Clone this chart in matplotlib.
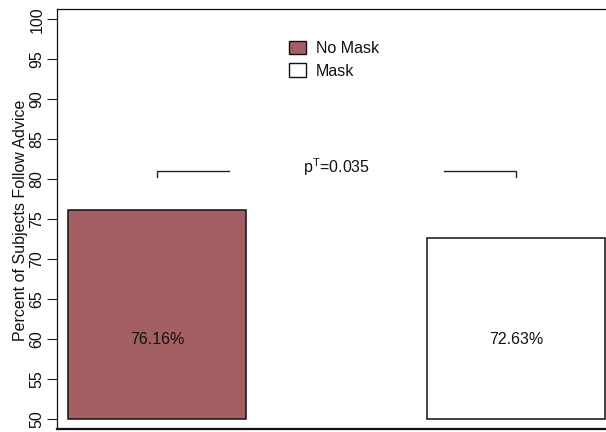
import matplotlib
matplotlib.use("Agg")
import matplotlib.pyplot as plt
from matplotlib.patches import Patch

# ---- data ----
groups = ["No Mask", "Mask"]
values = [76.16, 72.63]
value_labels = ["76.16%", "72.63%"]
bar_colors = ["#A45F63", "#FFFFFF"]
y_ticks = [50, 55, 60, 65, 70, 75, 80, 85, 90, 95, 100]
p_text = "0.035"
ylabel = "Percent of Subjects Follow Advice"

plt.rcParams["font.family"] = ["Liberation Sans", "DejaVu Sans"]
plt.rcParams["mathtext.fontset"] = "custom"
plt.rcParams["mathtext.rm"] = "Liberation Sans"
plt.rcParams["mathtext.it"] = "Liberation Sans:italic"

W, H = 606, 432
fig = plt.figure(figsize=(W / 100, H / 100), dpi=100)

left_px, right_px, top_px, bot_px = 57.3, 609.0, 9.3, 428.7
ax = fig.add_axes([left_px / W, 1 - bot_px / H,
                   (right_px - left_px) / W, (bot_px - top_px) / H])

ppu = 179.5
c0 = 157.0
ax.set_xlim((left_px - c0) / ppu, (right_px - c0) / ppu)
ax.set_ylim(48.825, 101.25)

base = 50
xs = [0, 2]
ax.bar(xs, [v - base for v in values], bottom=base, width=0.993,
       color=bar_colors, edgecolor="#111111", linewidth=1.1, zorder=2)

for x, lab in zip(xs, value_labels):
    ax.text(x, 60, lab, ha="center", va="center", fontsize=11.5, color="#111111")

# significance bracket
bh, bt = 81.0, 80.3
ax.plot([xs[0], xs[0], 0.4], [bt, bh, bh], color="#222222", lw=1.0,
        solid_joinstyle="miter")
ax.plot([1.6, xs[1], xs[1]], [bh, bh, bt], color="#222222", lw=1.0,
        solid_joinstyle="miter")
ax.text(1.0, 80.75, r"p$^{\mathrm{T}}$=" + p_text, ha="center", va="baseline",
        fontsize=11.5, color="#111111")

# legend
handles = [Patch(facecolor=c, edgecolor="#111111", linewidth=1.0) for c in bar_colors]
leg = fig.legend(handles, groups, loc="upper left",
                 bbox_to_anchor=(288.5 / W, 1 - 40.5 / H),
                 frameon=False, fontsize=11.5, handlelength=1.1,
                 handleheight=0.94, handletextpad=0.62, labelspacing=0.47,
                 borderpad=0, borderaxespad=0)
for t in leg.get_texts():
    t.set_color("#111111")

# axes styling
ax.set_xticks([])
ax.set_yticks(y_ticks, labels=[str(v) for v in y_ticks], rotation=90,
              rotation_mode="anchor", ha="center", va="baseline")
ax.tick_params(axis="y", length=7.5, width=0.8, pad=4.0, labelsize=11.5,
               colors="#222222", labelcolor="#111111")
for s in ["left", "top", "right"]:
    ax.spines[s].set_linewidth(0.9)
    ax.spines[s].set_color("#111111")
ax.spines["bottom"].set_linewidth(1.6)
ax.spines["bottom"].set_color("#111111")

fig.text(25.0 / W, 1 - 220.5 / H, ylabel, rotation=90, rotation_mode="anchor",
         ha="center", va="baseline", fontsize=11.5, color="#111111")

fig.savefig("out.png", dpi=100)
